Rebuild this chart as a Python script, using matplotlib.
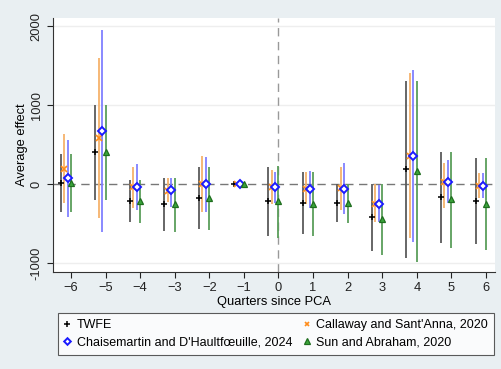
import numpy as np
import matplotlib.pyplot as plt

plt.rcParams['font.family'] = ['Liberation Sans', 'DejaVu Sans']

periods = [-6, -5, -4, -3, -2, -1, 0, 1, 2, 3, 4, 5, 6]

# TWFE
twfe_est = [20, 410, -211, -253, -173, 0, -211, -237, -232, -414, 190, -165, -211]
twfe_lo = [-346, -199, -482, -591, -566, np.nan, -651, -634, -475, -845, -930, -748, -760]
twfe_hi = [380, 1006, 51, 76, 224, np.nan, 224, 160, 5, 5, 1310, 414, 330]

# Callaway and Sant'Anna
cs_est = [199, 587, -30, -80, 4, 0, -30, -59, -51, -249, 359, 34, -21]
cs_lo = [-241, -431, -296, -220, -346, np.nan, -253, -253, -325, -482, -676, -304, -177]
cs_hi = [634, 1606, 224, 76, 363, np.nan, 182, 160, 224, 0, 1407, 266, 139]

# de Chaisemartin and D'Haultfoeuille
dc_est = [76, 676, -34, -76, 4, 0, -34, -59, -59, -249, 359, 34, -21]
dc_lo = [-410, -608, -325, -283, -346, np.nan, -241, -296, -380, -482, -727, -241, -175]
dc_hi = [558, 1960, 258, 85, 350, np.nan, 160, 169, 266, -8, 1449, 308, 139]

# Sun and Abraham
sa_est = [20, 410, -211, -253, -173, 0, -211, -245, -241, -439, 173, -190, -249]
sa_lo = [-355, -203, -494, -608, -579, np.nan, -676, -651, -490, -896, -980, -811, -832]
sa_hi = [380, 1001, 51, 76, 224, np.nan, 237, 160, 0, 0, 1310, 414, 330]

bg = '#e9eff2'
fs = 9.3
fig = plt.figure(figsize=(5.02, 3.69), dpi=100, facecolor=bg)
ax = fig.add_axes([0.1056, 0.2637, 0.8804, 0.6883])
ax.set_facecolor('white')

x = np.array(periods, dtype=float)

series = [
    (twfe_est, twfe_lo, twfe_hi, -0.3, '#5a5a5a', dict(marker='+', color='black', ms=5, mew=1.1, ls='none'), 'TWFE'),
    (cs_est, cs_lo, cs_hi, -0.2, '#f6b26b', dict(marker='x', color='#ff8c1a', ms=4, mew=1.2, ls='none'), "Callaway and Sant'Anna, 2020"),
    (dc_est, dc_lo, dc_hi, -0.1, '#8080ff', dict(marker='D', mfc='white', mec='#1a1aff', ms=4.5, mew=1.4, ls='none'), "Chaisemartin and D'Haultf\u0153uille, 2024"),
    (sa_est, sa_lo, sa_hi, 0.0, '#5a9e5a', dict(marker='^', mfc='#3aa53a', mec='#1f6e1f', ms=5, mew=0.9, ls='none'), 'Sun and Abraham, 2020'),
]

handles = {}
for est, lo, hi, off, lc, mk, label in series:
    ax.vlines(x + off, lo, hi, colors=lc, lw=1.3, zorder=2)
    h, = ax.plot(x + off, est, zorder=4, label=label, **mk)
    handles[label] = h

ax.axhline(0, color='#777777', lw=1, ls=(0, (6, 4)), zorder=1)
ax.axvline(0, color='#999999', lw=1, ls=(0, (6, 4)), zorder=1)
for g in [2000, 1000, -1000]:
    ax.axhline(g, color='#eeeeee', lw=1, zorder=0)

ax.set_xlim(-6.52, 6.26)
ax.set_ylim(-1107, 2110)
ax.set_xticks(periods)
ax.set_yticks([-1000, 0, 1000, 2000])
ax.set_yticklabels(['-1000', '0', '1000', '2000'], rotation=90, va='center')
ax.tick_params(labelsize=fs, colors='#222222', length=4)
for s in ['top', 'right']:
    ax.spines[s].set_visible(False)
for s in ['left', 'bottom']:
    ax.spines[s].set_color('#333333')
ax.set_xlabel('Quarters since PCA', fontsize=fs, labelpad=1)
ax.set_ylabel('Average effect', fontsize=fs, labelpad=2)

order = ['TWFE', "Chaisemartin and D'Haultf\u0153uille, 2024",
         "Callaway and Sant'Anna, 2020", 'Sun and Abraham, 2020']
leg = fig.legend([handles[k] for k in order], order, ncol=2, loc='upper left',
                 bbox_to_anchor=(0.1155, 0.152), borderaxespad=0,
                 fontsize=9, frameon=True, fancybox=False, edgecolor='#333333',
                 handlelength=0.5, handletextpad=0.5, columnspacing=0.9,
                 borderpad=0.5, labelspacing=0.45, markerscale=0.75)
leg.get_frame().set_linewidth(0.8)

fig.savefig('out.png', dpi=100, facecolor=bg)
